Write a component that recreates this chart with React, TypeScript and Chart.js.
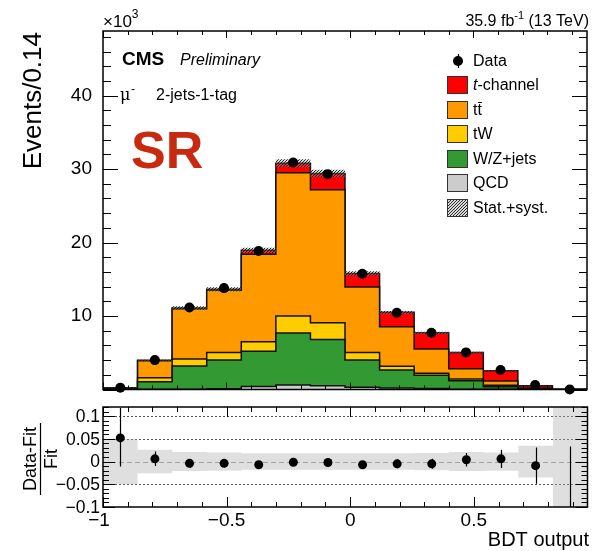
import React, { useEffect, useRef } from 'react';
import { Chart, registerables } from 'chart.js';
Chart.register(...registerables);

const FONT = '"Liberation Sans", Arial, Helvetica, sans-serif';

// ---- data (x10^3 events) ----
const binEdges = [-1, -0.86, -0.72, -0.58, -0.44, -0.3, -0.16, -0.02, 0.12, 0.26, 0.4, 0.54, 0.68, 0.82, 0.96];
const binCenters = [-0.93, -0.79, -0.65, -0.51, -0.37, -0.23, -0.09, 0.05, 0.19, 0.33, 0.47, 0.61, 0.75, 0.89];

const qcd = [0, 0.02, 0.05, 0.1, 0.4, 0.6, 0.5, 0.3, 0.2, 0.15, 0.05, 0.03, 0.01, 0];
const wzJets = [0.05, 1.03, 3.15, 3.9, 4.8, 7.1, 6.3, 3.7, 2.45, 1.78, 1.15, 0.33, 0.05, 0];
const tW = [0.02, 0.54, 0.94, 1.05, 1.3, 2.3, 2.3, 1.05, 0.5, 0.27, 0.23, 0.22, 0.04, 0];
const ttbar = [0.15, 2.34, 6.86, 8.45, 11.9, 19.5, 18.1, 8.91, 5.38, 3.3, 1.4, 0.59, 0.12, 0.005];
const tChannel = [0.02, 0.05, 0.1, 0.15, 0.55, 1.3, 2.2, 1.84, 1.97, 2.22, 2.22, 1.39, 0.3, 0.005];
const dataEvents = [0.25, 4.0, 11.15, 13.8, 18.85, 30.9, 29.3, 15.75, 10.45, 7.72, 5.05, 2.65, 0.6, 0];
const statSyst = [0.03, 0.08, 0.22, 0.26, 0.35, 0.55, 0.5, 0.3, 0.2, 0.15, 0.1, 0.06, 0.02, 0.005];

// ---- ratio panel ----
const ratioValues = [0.052, 0.006, -0.004, -0.004, -0.007, -0.0015, -0.002, -0.007, -0.005, -0.005, 0.004, 0.006, -0.009, -1];
const ratioErrUp = [0.066, 0.016, 0.0095, 0.0085, 0.0073, 0.0057, 0.0058, 0.008, 0.0098, 0.011, 0.015, 0.02, 0.04, 1.033];
const ratioErrDown = [0.063, 0.016, 0.0095, 0.0085, 0.0073, 0.0057, 0.0058, 0.008, 0.0098, 0.011, 0.015, 0.02, 0.04, 0];
const ratioBand = [0.05, 0.026, 0.021, 0.02, 0.018, 0.018, 0.018, 0.018, 0.018, 0.019, 0.021, 0.02, 0.035, 1];

// ---- ticks / labels ----
const mainYTicks = [10, 20, 30, 40];
const mainYTickLabels = ['10', '20', '30', '40'];
const xTicks = [-1, -0.5, 0, 0.5];
const xTickLabels = ['\u22121', '\u22120.5', '0', '0.5'];
const ratioYTicks = [0.1, 0.05, 0, -0.05, -0.1];
const ratioYTickLabels = ['0.1', '0.05', '0', '\u22120.05', '\u22120.1'];

const seriesLabels = ['QCD', 'W/Z+jets', 'tW', 'tt', 't-channel'];
const seriesColors = ['#cccccc', '#339933', '#ffcc00', '#ff9900', '#ff0000'];
const legendLabels = ['Data', 't-channel', 'tt', 'tW', 'W/Z+jets', 'QCD', 'Stat.+syst.'];

const RATIO_TOP = 398;

function stepPoints(vals: number[], closeToZero: boolean) {
  const n = vals.length;
  const pts: any[] = [];
  if (closeToZero) pts.push({ x: binEdges[0], y: 0 });
  for (let i = 0; i < n; i++) pts.push({ x: binEdges[i], y: vals[i] });
  pts.push({ x: binEdges[n], y: vals[n - 1] });
  if (closeToZero) pts.push({ x: binEdges[n], y: 0 });
  return pts;
}

function makeHatch(): any {
  const c = document.createElement('canvas');
  c.width = 3; c.height = 3;
  const g = c.getContext('2d')!;
  g.fillStyle = 'rgba(150,150,150,0.35)';
  g.fillRect(0, 0, 3, 3);
  g.fillStyle = 'rgba(10,10,10,0.85)';
  g.fillRect(0, 2, 1, 1);
  g.fillRect(1, 1, 1, 1);
  g.fillRect(2, 0, 1, 1);
  return g.createPattern(c, 'repeat');
}

function text(ctx: any, s: string, x: number, y: number, font: string, align = 'left', base = 'alphabetic') {
  ctx.font = font;
  ctx.textAlign = align;
  ctx.textBaseline = base;
  ctx.fillText(s, x, y);
  return ctx.measureText(s).width;
}

export default function App() {
  const topRef = useRef<HTMLCanvasElement>(null);
  const botRef = useRef<HTMLCanvasElement>(null);

  useEffect(() => {
    const hatch = makeHatch();
    const comps = [qcd, wzJets, tW, ttbar, tChannel];
    const cum: number[][] = [];
    let run = new Array(binCenters.length).fill(0);
    comps.forEach((c) => {
      run = run.map((r, i) => r + c[i]);
      cum.push(run);
    });
    const total = cum[cum.length - 1];

    const stackDatasets = comps.map((_, j) => ({
      label: seriesLabels[j],
      data: stepPoints(cum[j], true),
      stepped: 'before',
      fill: 'origin',
      backgroundColor: seriesColors[j],
      borderColor: '#111',
      borderWidth: 1.5,
      pointRadius: 0,
      order: 6 + j,
    }));

    const mainDecor = {
      id: 'mainDecor',
      afterDraw(chart: any) {
        const { ctx, chartArea: a } = chart;
        const xs = chart.scales.x, ys = chart.scales.y;
        ctx.save();
        ctx.fillStyle = '#000';
        ctx.strokeStyle = '#000';
        ctx.lineWidth = 1;
        ctx.beginPath();
        for (let v = 0; v <= 48; v += 2) {
          const p = Math.round(ys.getPixelForValue(v)) + 0.5;
          const len = v % 10 === 0 ? 15 : 8;
          ctx.moveTo(a.left, p); ctx.lineTo(a.left + len, p);
          ctx.moveTo(a.right, p); ctx.lineTo(a.right - len, p);
        }
        for (let k = -10; k <= 9; k++) {
          const p = Math.round(xs.getPixelForValue(k / 10)) + 0.5;
          const len = k % 5 === 0 ? 7 : 4;
          ctx.moveTo(p, a.bottom); ctx.lineTo(p, a.bottom - len);
          ctx.moveTo(p, a.top); ctx.lineTo(p, a.top + len);
        }
        ctx.stroke();
        ctx.lineWidth = 1.5;
        ctx.strokeRect(a.left, a.top, a.right - a.left, a.bottom - a.top);

        // y tick labels
        mainYTicks.forEach((v, i) => {
          text(ctx, mainYTickLabels[i], a.left - 11, ys.getPixelForValue(v), `19px ${FONT}`, 'right', 'middle');
        });
        // y title
        ctx.save();
        ctx.translate(34, 32);
        ctx.rotate(-Math.PI / 2);
        text(ctx, 'Events/0.14', 0, 0, `26px ${FONT}`, 'right', 'middle');
        ctx.restore();
        // x10^3
        let w = text(ctx, '\u00d710', a.left, 27, `17px ${FONT}`);
        text(ctx, '3', a.left + w, 18, `12px ${FONT}`);
        // lumi
        const f1 = `16px ${FONT}`, f2 = `11px ${FONT}`;
        ctx.font = f1; const wa = ctx.measureText('35.9 fb').width; const wc = ctx.measureText(' (13 TeV)').width;
        ctx.font = f2; const wb = ctx.measureText('-1').width;
        let sx = 589 - (wa + wb + wc);
        text(ctx, '35.9 fb', sx, 26, f1); sx += wa;
        text(ctx, '-1', sx, 19, f2); sx += wb;
        text(ctx, ' (13 TeV)', sx, 26, f1);
        // CMS Preliminary
        text(ctx, 'CMS', 122, 65, `bold 19px ${FONT}`);
        text(ctx, 'Preliminary', 180, 65, `italic 16px ${FONT}`);
        text(ctx, '\u03bc', 120, 100, `16px "DejaVu Serif", serif`);
        text(ctx, '-', 131, 93, `12px ${FONT}`);
        text(ctx, '2-jets-1-tag', 156, 100, `16px ${FONT}`);
        ctx.fillStyle = '#c82a10';
        text(ctx, 'SR', 131, 168, `bold 52px ${FONT}`);
        ctx.fillStyle = '#000';

        // legend
        const lx = 447, bw = 21, bh = 18, tx = 473;
        const ly = [61, 85, 110, 134, 159, 183, 208];
        ctx.beginPath(); ctx.arc(458, ly[0], 5, 0, Math.PI * 2); ctx.fill();
        ctx.lineWidth = 1.2;
        ctx.beginPath(); ctx.moveTo(458.5, ly[0] - 7); ctx.lineTo(458.5, ly[0] + 7); ctx.stroke();
        text(ctx, legendLabels[0], tx, ly[0] + 1, `16px ${FONT}`, 'left', 'middle');
        const boxFills = [seriesColors[4], seriesColors[3], seriesColors[2], seriesColors[1], seriesColors[0], hatch];
        for (let i = 1; i < legendLabels.length; i++) {
          const yy = ly[i];
          if (i === 6) { ctx.fillStyle = '#ffffff'; ctx.fillRect(lx, yy - bh / 2, bw, bh); }
          ctx.fillStyle = boxFills[i - 1];
          ctx.fillRect(lx, yy - bh / 2, bw, bh);
          ctx.lineWidth = 1;
          ctx.strokeStyle = '#333';
          ctx.strokeRect(lx + 0.5, yy - bh / 2 + 0.5, bw - 1, bh - 1);
          ctx.fillStyle = '#000';
          if (i === 1) {
            const wt = text(ctx, 't', tx, yy + 1, `italic 16px ${FONT}`, 'left', 'middle');
            text(ctx, '-channel', tx + wt, yy + 1, `16px ${FONT}`, 'left', 'middle');
          } else if (i === 2) {
            ctx.font = `16px ${FONT}`;
            const wt = ctx.measureText('t').width;
            text(ctx, 'tt', tx, yy + 1, `16px ${FONT}`, 'left', 'middle');
            ctx.strokeStyle = '#000';
            ctx.lineWidth = 1;
            ctx.beginPath(); ctx.moveTo(tx + wt + 0.5, yy - 7.5); ctx.lineTo(tx + 2 * wt, yy - 7.5); ctx.stroke();
          } else {
            text(ctx, legendLabels[i], tx, yy + 1, `16px ${FONT}`, 'left', 'middle');
          }
        }
        ctx.restore();
      },
    };

    const top = new Chart(topRef.current!, {
      type: 'line',
      data: {
        datasets: [
          {
            label: 'Data',
            data: binCenters.map((x, i) => ({ x, y: dataEvents[i] })),
            showLine: false,
            pointRadius: 5,
            pointBackgroundColor: '#000',
            pointBorderColor: '#000',
            pointBorderWidth: 0,
            clip: false,
            order: 0,
          } as any,
          {
            label: 'upper',
            data: stepPoints(total.map((t, i) => t + statSyst[i]), false),
            stepped: 'before',
            borderWidth: 0,
            borderColor: 'rgba(0,0,0,0)',
            pointRadius: 0,
            fill: false,
            order: 1,
          },
          {
            label: 'Stat.+syst.',
            data: stepPoints(total.map((t, i) => t - statSyst[i]), false),
            stepped: 'before',
            borderWidth: 0,
            borderColor: 'rgba(0,0,0,0)',
            pointRadius: 0,
            fill: 1,
            backgroundColor: hatch,
            order: 2,
          },
          ...stackDatasets,
        ] as any,
      },
      options: {
        responsive: false,
        animation: false,
        devicePixelRatio: 1,
        events: [],
        layout: { padding: { left: 103, right: 2, top: 31, bottom: 8.5 } },
        scales: {
          x: { type: 'linear', min: -1, max: 0.96, display: false },
          y: { type: 'linear', min: 0, max: 48.8, display: false },
        },
        plugins: { legend: { display: false }, tooltip: { enabled: false } },
      } as any,
      plugins: [mainDecor],
    });

    const ratioDecor = {
      id: 'ratioDecor',
      beforeDatasetsDraw(chart: any) {
        const { ctx, chartArea: a } = chart;
        const ys = chart.scales.y;
        ctx.save();
        ctx.lineWidth = 1;
        [0.1, 0.05, -0.05].forEach((v) => {
          const p = Math.round(ys.getPixelForValue(v)) + 0.5;
          ctx.strokeStyle = '#555';
          ctx.setLineDash([2, 2]);
          ctx.beginPath(); ctx.moveTo(a.left, p); ctx.lineTo(a.right, p); ctx.stroke();
        });
        const p0 = Math.round(ys.getPixelForValue(0)) + 0.5;
        ctx.strokeStyle = '#999';
        ctx.setLineDash([5, 3]);
        ctx.beginPath(); ctx.moveTo(a.left, p0); ctx.lineTo(a.right, p0); ctx.stroke();
        ctx.restore();
      },
      afterDatasetsDraw(chart: any) {
        const { ctx, chartArea: a } = chart;
        const xs = chart.scales.x, ys = chart.scales.y;
        ctx.save();
        ctx.beginPath(); ctx.rect(a.left, a.top, a.right - a.left, a.bottom - a.top); ctx.clip();
        ctx.strokeStyle = '#000';
        ctx.lineWidth = 1.2;
        ctx.beginPath();
        binCenters.forEach((c, i) => {
          const px = Math.round(xs.getPixelForValue(c)) + 0.5;
          ctx.moveTo(px, ys.getPixelForValue(ratioValues[i] - ratioErrDown[i]));
          ctx.lineTo(px, ys.getPixelForValue(ratioValues[i] + ratioErrUp[i]));
        });
        ctx.stroke();
        ctx.restore();
      },
      afterDraw(chart: any) {
        const { ctx, chartArea: a } = chart;
        const xs = chart.scales.x, ys = chart.scales.y;
        ctx.save();
        ctx.fillStyle = '#000';
        ctx.strokeStyle = '#000';
        ctx.lineWidth = 1;
        ctx.beginPath();
        for (let k = -10; k <= 12; k++) {
          const p = Math.round(ys.getPixelForValue(k / 100)) + 0.5;
          const len = k % 5 === 0 ? 12 : 6;
          ctx.moveTo(a.left, p); ctx.lineTo(a.left + len, p);
          ctx.moveTo(a.right, p); ctx.lineTo(a.right - len, p);
        }
        for (let k = -10; k <= 9; k++) {
          const p = Math.round(xs.getPixelForValue(k / 10)) + 0.5;
          const len = k % 5 === 0 ? 10 : 5;
          ctx.moveTo(p, a.bottom); ctx.lineTo(p, a.bottom - len);
          ctx.moveTo(p, a.top); ctx.lineTo(p, a.top + len);
        }
        ctx.stroke();
        ctx.lineWidth = 1.5;
        ctx.strokeRect(a.left, a.top, a.right - a.left, a.bottom - a.top);

        ratioYTicks.forEach((v, i) => {
          text(ctx, ratioYTickLabels[i], a.left - 3, ys.getPixelForValue(v) + 1, `17.5px ${FONT}`, 'right', 'middle');
        });
        xTicks.forEach((v, i) => {
          text(ctx, xTickLabels[i], xs.getPixelForValue(v) - (i === 0 ? 4 : 0), a.bottom + 4, `19px ${FONT}`, 'center', 'top');
        });
        text(ctx, 'BDT output', 589, 148, `20px ${FONT}`, 'right', 'alphabetic');
        // fraction title
        ctx.save();
        ctx.translate(40, (a.top + a.bottom) / 2 + 2);
        ctx.rotate(-Math.PI / 2);
        text(ctx, 'Data-Fit', 0, -4, `18px ${FONT}`, 'center', 'alphabetic');
        text(ctx, 'Fit', 0, 17, `18px ${FONT}`, 'center', 'alphabetic');
        ctx.lineWidth = 1.2;
        ctx.beginPath(); ctx.moveTo(-36, 0.5); ctx.lineTo(36, 0.5); ctx.stroke();
        ctx.restore();
        ctx.restore();
      },
    };

    const bot = new Chart(botRef.current!, {
      type: 'line',
      data: {
        datasets: [
          {
            label: 'ratio',
            data: binCenters.map((x, i) => ({ x, y: ratioValues[i] })),
            showLine: false,
            pointRadius: 4.5,
            pointBackgroundColor: '#000',
            pointBorderColor: '#000',
            pointBorderWidth: 0,
            order: 0,
          } as any,
          {
            label: 'bandUp',
            data: stepPoints(ratioBand, false),
            stepped: 'before',
            borderWidth: 0,
            borderColor: 'rgba(0,0,0,0)',
            pointRadius: 0,
            fill: false,
            order: 1,
          },
          {
            label: 'bandDown',
            data: stepPoints(ratioBand.map((u) => -u), false),
            stepped: 'before',
            borderWidth: 0,
            borderColor: 'rgba(0,0,0,0)',
            pointRadius: 0,
            fill: 1,
            backgroundColor: 'rgba(175,175,175,0.4)',
            order: 2,
          },
        ] as any,
      },
      options: {
        responsive: false,
        animation: false,
        devicePixelRatio: 1,
        events: [],
        layout: { padding: { left: 103, right: 2, top: 407 - RATIO_TOP, bottom: 551 - RATIO_TOP - (507 - RATIO_TOP) } },
        scales: {
          x: { type: 'linear', min: -1, max: 0.96, display: false },
          y: { type: 'linear', min: -0.1, max: 0.12, display: false },
        },
        plugins: { legend: { display: false }, tooltip: { enabled: false } },
      } as any,
      plugins: [ratioDecor],
    });

    return () => {
      top.destroy();
      bot.destroy();
    };
  }, []);

  return (
    <div style={{ position: 'absolute', left: 0, top: 0, width: 592, height: 551, background: '#fff' }}>
      <canvas ref={topRef} width={592} height={RATIO_TOP} style={{ position: 'absolute', left: 0, top: 0 }} />
      <canvas ref={botRef} width={592} height={551 - RATIO_TOP} style={{ position: 'absolute', left: 0, top: RATIO_TOP }} />
    </div>
  );
}
